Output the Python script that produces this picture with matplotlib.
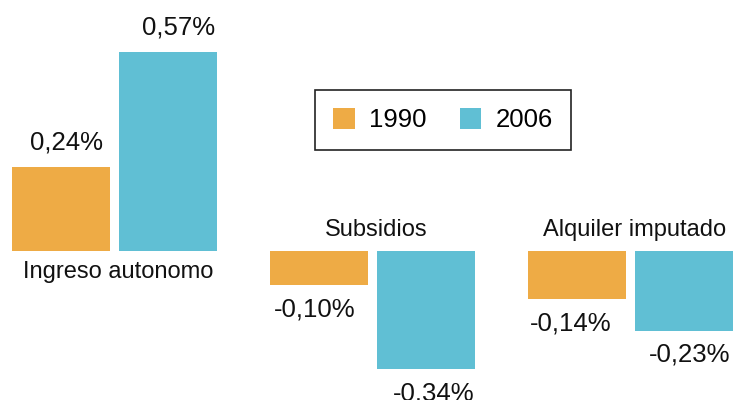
import matplotlib
matplotlib.use("Agg")
import matplotlib.pyplot as plt
import numpy as np

plt.rcParams['font.family'] = ['Liberation Sans', 'DejaVu Sans']

categories = ["Ingreso autonomo", "Subsidios", "Alquiler imputado"]
years = ["1990", "2006"]
v1990 = [0.24, -0.10, -0.14]
v2006 = [0.57, -0.34, -0.23]
colors = ["#EEAB45", "#60BFD4"]

# small horizontal nudges (points) for value labels, per series
nudge = [[4, -3, -4], [7, 5, 4]]

fig = plt.figure(figsize=(7.36, 4.0), dpi=100)
ax = fig.add_axes([0, 0, 1, 1])
ax.set_axis_off()

x = np.arange(len(categories))
w = 0.38
off = 0.209
series = [v1990, v2006]
for i, (vals, col, lab) in enumerate(zip(series, colors, years)):
    pos = x + (-off if i == 0 else off)
    ax.bar(pos, vals, width=w, color=col, label=lab)
    for j, (xp, v) in enumerate(zip(pos, vals)):
        txt = f"{v:.2f}".replace(".", ",") + "%"
        ax.annotate(txt, (xp, v), xytext=(nudge[i][j], 17.5 if v > 0 else -17.5),
                    textcoords="offset points", ha="center", va="center",
                    fontsize=18.5, color="#111111")

for xc, cat, a, b in zip(x, categories, v1990, v2006):
    dy = -15.5 if a > 0 else 14.5
    ax.annotate(cat, (xc + 0.015, 0), xytext=(0, dy), textcoords="offset points",
                ha="center", va="center", fontsize=17, color="#111111")

ax.set_xlim(-0.444, 2.409)
ax.set_ylim(-0.4296, 0.720)

leg = ax.legend(loc="center", bbox_to_anchor=(0.602, 0.699),
                bbox_transform=fig.transFigure, ncol=2, fontsize=18.5,
                frameon=True, fancybox=False, handlelength=0.85,
                handleheight=0.85, handletextpad=0.55, columnspacing=1.27,
                borderpad=0.7)
fr = leg.get_frame()
fr.set_edgecolor("#222222")
fr.set_linewidth(1.2)
fr.set_alpha(1)

fig.savefig("out.png", dpi=100)
